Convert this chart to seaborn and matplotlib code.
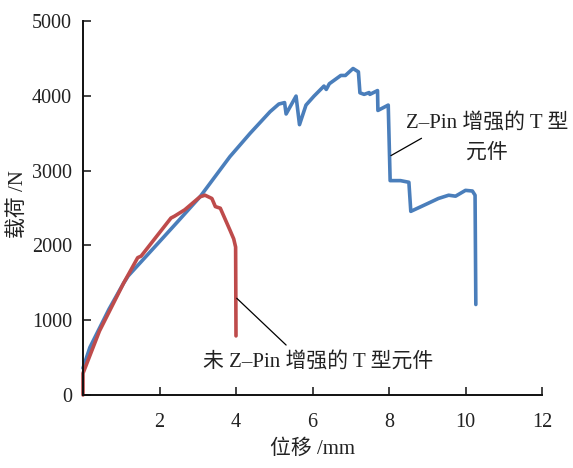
import matplotlib
matplotlib.use("Agg")
import matplotlib.pyplot as plt
import numpy as np
import pandas as pd
import seaborn as sns

# displacement (mm) / load (N)
pin_disp = [0.0, 0.18, 0.68, 1.06, 1.18, 2.0, 2.48, 3.06, 3.84, 4.37, 4.89, 5.12, 5.27,
            5.31, 5.57, 5.66, 5.83, 6.04, 6.30, 6.36, 6.44, 6.74, 6.86, 7.06, 7.20,
            7.24, 7.35, 7.48, 7.50, 7.70, 7.71, 7.98, 8.03, 8.30, 8.52, 8.57, 9.02,
            9.29, 9.56, 9.74, 10.0, 10.18, 10.25, 10.27]
pin_load = [360, 636, 1148, 1494, 1591, 2050, 2320, 2650, 3186, 3499, 3787, 3890, 3909,
            3757, 3996, 3614, 3876, 3996, 4130, 4085, 4161, 4272, 4272, 4365, 4320,
            4040, 4019, 4043, 4019, 4070, 3804, 3876, 2866, 2866, 2844, 2455, 2562,
            2627, 2671, 2658, 2736, 2727, 2671, 1210]

nopin_disp = [0.0, 0.0, 0.43, 1.06, 1.43, 1.52, 2.30, 2.39, 2.66, 3.06, 3.19, 3.37,
              3.46, 3.59, 3.72, 3.85, 3.94, 3.99, 4.0]
nopin_load = [0, 290, 855, 1494, 1836, 1857, 2366, 2390, 2476, 2650, 2671, 2627,
              2519, 2497, 2346, 2195, 2087, 1978, 790]

x_ticks = [2, 4, 6, 8, 10, 12]
y_ticks = [0, 1000, 2000, 3000, 4000, 5000]

pin_label = "Z–Pin 增强的 T 型"
pin_label2 = "元件"
nopin_label = "未 Z–Pin 增强的 T 型元件"

sns.set_style("ticks")
plt.rcParams['font.family'] = ['Liberation Serif', 'Noto Sans CJK SC', 'DejaVu Sans']
plt.rcParams['axes.unicode_minus'] = False

fig = plt.figure(figsize=(5.73, 4.68), dpi=100)
ax = fig.add_axes([83 / 573, 1 - 395 / 468, (542 - 83) / 573, (395 - 21) / 468])

df_pin = pd.DataFrame({"disp": pin_disp, "load": pin_load})
df_nopin = pd.DataFrame({"disp": nopin_disp, "load": nopin_load})

sns.lineplot(data=df_pin, x="disp", y="load", sort=False, estimator=None,
             color="#4A7EBB", linewidth=2.6, ax=ax, clip_on=False)
sns.lineplot(data=df_nopin, x="disp", y="load", sort=False, estimator=None,
             color="#BE4B4B", linewidth=2.6, ax=ax, clip_on=False)

ax.set_xlim(0, 12)
ax.set_ylim(0, 5000)
ax.set_xticks(x_ticks)
ax.set_yticks(y_ticks)
ax.tick_params(axis="both", direction="in", length=6, width=1.2, labelsize=14.5,
               colors="#222222")
ax.tick_params(axis="x", pad=13)
ax.tick_params(axis="y", pad=8)
for s in ["top", "right"]:
    ax.spines[s].set_visible(False)
for s in ["left", "bottom"]:
    ax.spines[s].set_linewidth(1.4)
    ax.spines[s].set_color("#111111")

ax.set_xlabel("位移 /mm", fontsize=15, labelpad=5, color="#222222")
ax.set_ylabel("载荷 /N", fontsize=15, color="#222222")
ax.yaxis.set_label_coords(-0.12, 0.51)

# leader lines and labels
ax.annotate("", xy=(8.05, 3200), xytext=(8.85, 3432),
            arrowprops=dict(arrowstyle="-", color="black", lw=0.9, shrinkA=0, shrinkB=0))
ax.text(10.56, 3636, pin_label, fontsize=15, ha="center", va="center", color="#222222",
        clip_on=False)
ax.text(10.56, 3231, pin_label2, fontsize=15, ha="center", va="center", color="#222222")

ax.annotate("", xy=(4.02, 1293), xytext=(5.31, 668),
            arrowprops=dict(arrowstyle="-", color="black", lw=0.9, shrinkA=0, shrinkB=0))
ax.text(6.14, 445, nopin_label, fontsize=15, ha="center", va="center", color="#222222")

plt.savefig("out.png", dpi=100)
